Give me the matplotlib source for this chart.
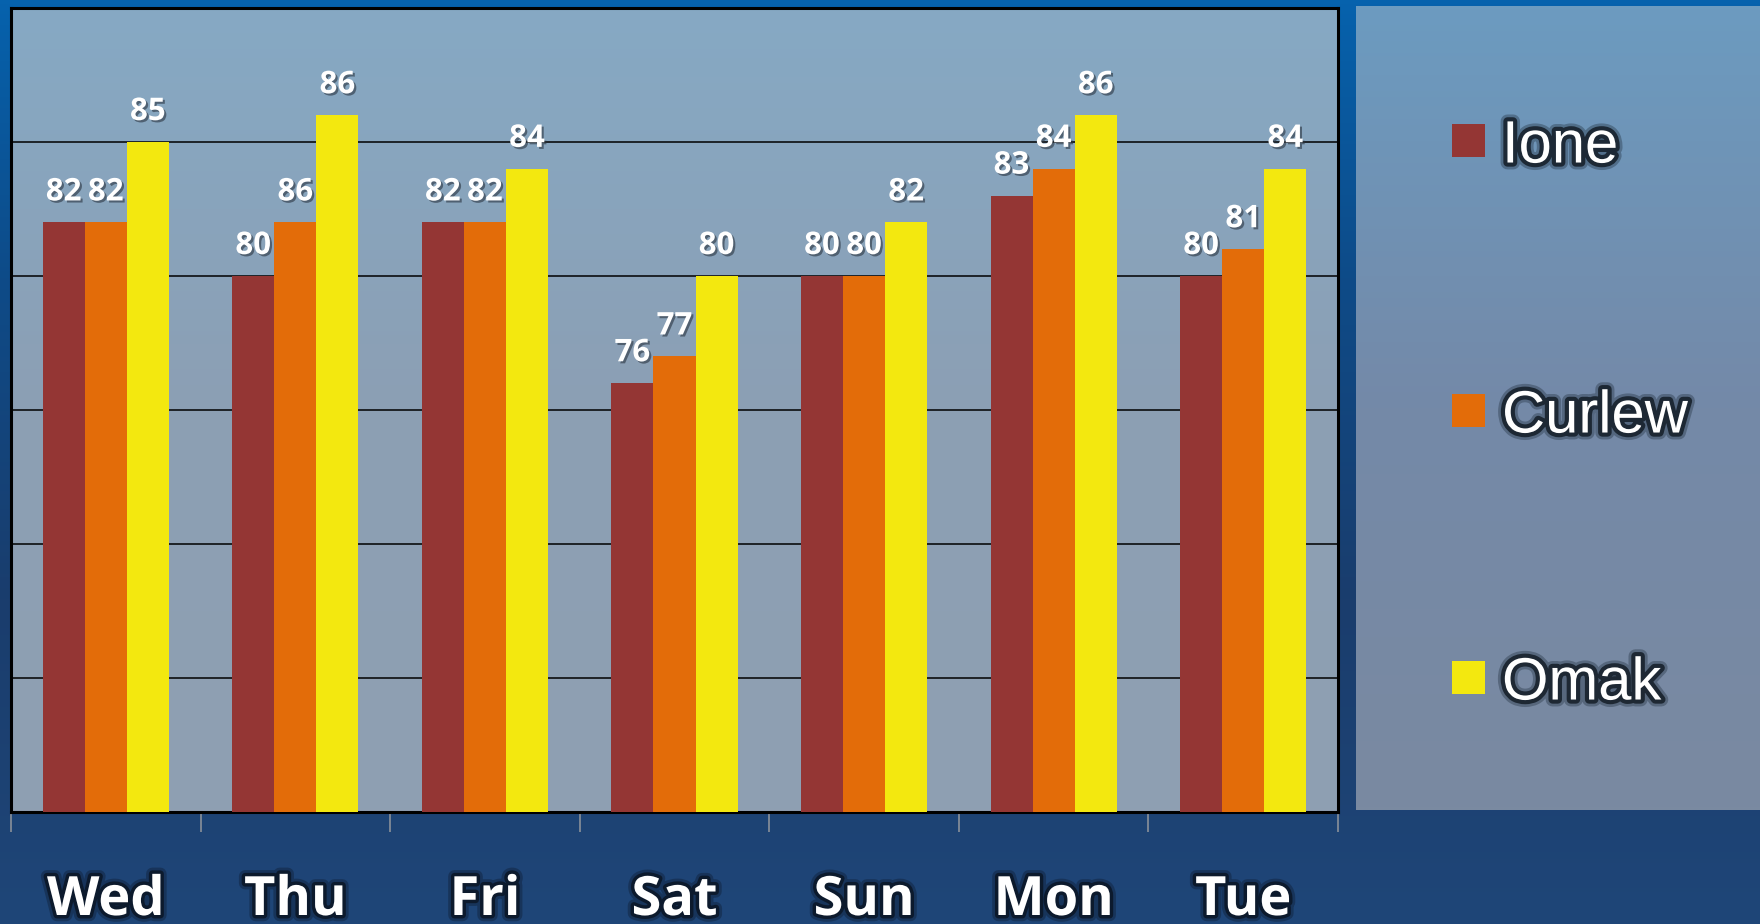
import numpy as np
import matplotlib
matplotlib.use('Agg')
import matplotlib.pyplot as plt
import matplotlib.patheffects as pe
from matplotlib.colors import LinearSegmentedColormap
from matplotlib.transforms import blended_transform_factory
from matplotlib.patches import Rectangle

# ---------------- data ----------------
days = ['Wed', 'Thu', 'Fri', 'Sat', 'Sun', 'Mon', 'Tue']
series_names = ['Ione', 'Curlew', 'Omak']
ione = [82, 80, 82, 76, 80, 83, 80]
curlew = [82, 82, 82, 77, 80, 84, 81]
omak = [85, 86, 84, 80, 82, 86, 84]
ione_labels = ['82', '80', '82', '76', '80', '83', '80']
curlew_labels = ['82', '86', '82', '77', '80', '84', '81']
omak_labels = ['85', '86', '84', '80', '82', '86', '84']
series_colors = ['#943634', '#E36C09', '#F3E80F']

values = [ione, curlew, omak]
labels = [ione_labels, curlew_labels, omak_labels]

W, H = 1760, 924
fig = plt.figure(figsize=(17.6, 9.24), dpi=100)

# ---------------- page background ----------------
bg = fig.add_axes([0, 0, 1, 1], zorder=0)
cmap_bg = LinearSegmentedColormap.from_list(
    'bg', [(0, '#0662ad'), (0.3, '#0e4b88'), (0.65, '#1a3d6d'), (1, '#1f4678')])
bg.imshow(np.linspace(0, 1, 256).reshape(-1, 1), cmap=cmap_bg, aspect='auto',
          extent=[0, 1, 0, 1], origin='upper')
bg.set_xlim(0, 1); bg.set_ylim(0, 1); bg.axis('off')

# ---------------- plot area ----------------
L, R, T, B = 11, 1338, 8, 812
rect = [L / W, (H - B) / H, (R - L) / W, (B - T) / H]

pbg = fig.add_axes(rect, zorder=1)
cmap_p = LinearSegmentedColormap.from_list('p', ['#86a9c4', '#8c9fb4', '#8f9fb2'])
pbg.imshow(np.linspace(0, 1, 256).reshape(-1, 1), cmap=cmap_p, aspect='auto',
           extent=[0, 1, 0, 1], origin='upper')
pbg.set_xlim(0, 1); pbg.set_ylim(0, 1); pbg.axis('off')

ax = fig.add_axes(rect, zorder=2)
ax.set_facecolor('none')
x = np.arange(len(days))
bw = 0.222
offsets = [-bw, 0, bw]

shadow = [pe.SimplePatchShadow(offset=(1.5, -1.5), shadow_rgbFace='#2a3440', alpha=0.6),
          pe.Normal()]

for vals, labs, col, off in zip(values, labels, series_colors, offsets):
    ax.bar(x + off, vals, width=bw, color=col, edgecolor='none', zorder=3)
    for xi, v, lab in zip(x + off, vals, labs):
        ax.annotate(lab, (xi, v), xytext=(0, 15.8), textcoords='offset points',
                    ha='center', va='baseline', fontsize=22.5, fontweight='bold',
                    family='Open Sans', color='white', path_effects=shadow, zorder=5)

ax.set_xlim(-0.5, len(days) - 0.5)
ax.set_ylim(60, 90)
ax.set_yticks([65, 70, 75, 80, 85])
ax.yaxis.grid(True, color='black', linewidth=1.1, zorder=1)
ax.set_axisbelow(True)
ax.tick_params(axis='y', length=0, labelleft=False)
ax.set_xticks(np.arange(-0.5, len(days)))
ax.tick_params(axis='x', length=14.5, width=1.2, color='#8a909a', labelbottom=False,
               direction='out')
for s in ax.spines.values():
    s.set_color('black')
    s.set_linewidth(2.2)

tr = blended_transform_factory(ax.transData, ax.transAxes)
glow = [pe.Stroke(linewidth=9, foreground='#0b1626', alpha=0.35),
        pe.Stroke(linewidth=5, foreground='#0b1626', alpha=0.85),
        pe.Normal()]
for xi, d in zip(x, days):
    ax.text(xi, (B - 915) / (B - T), d, transform=tr, ha='center', va='baseline',
            fontsize=39, fontweight='bold', family='Open Sans', color='white',
            path_effects=glow, clip_on=False)

# ---------------- legend panel ----------------
LL, LR, LT, LB = 1356, 1760, 6, 810
lax = fig.add_axes([LL / W, (H - LB) / H, (LR - LL) / W, (LB - LT) / H], zorder=1)
cmap_l = LinearSegmentedColormap.from_list('l', ['#6c9bc0', '#7489a8', '#7a8aa1'])
lax.imshow(np.linspace(0, 1, 256).reshape(-1, 1), cmap=cmap_l, aspect='auto',
           extent=[0, 1, 0, 1], origin='upper')
lax.set_xlim(0, 1); lax.set_ylim(0, 1); lax.axis('off')

lw_px, lh_px = LR - LL, LB - LT
centers = [140, 410, 677]
sq = 33
lglow = [pe.Stroke(linewidth=10, foreground='#1b2836', alpha=0.35),
         pe.Stroke(linewidth=6, foreground='#141d27', alpha=0.85),
         pe.Normal()]
for name, col, c in zip(series_names, series_colors, centers):
    lax.add_patch(Rectangle(((1452 - LL) / lw_px, (LB - c - sq / 2) / lh_px),
                            sq / lw_px, sq / lh_px, facecolor=col, edgecolor='none'))
    lax.text((1502 - LL) / lw_px, (LB - (c + 22.5)) / lh_px, name,
             ha='left', va='baseline', fontsize=43, family='Liberation Sans',
             color='white', path_effects=lglow)

fig.savefig('out.png', dpi=100)
